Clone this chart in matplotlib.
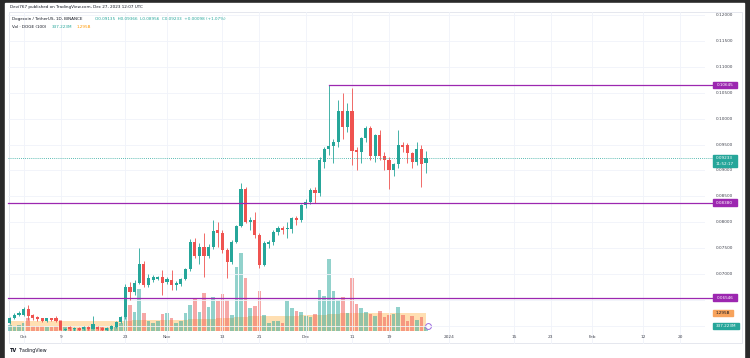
import numpy as np
import matplotlib.pyplot as plt
from matplotlib.patches import Rectangle
from matplotlib.transforms import blended_transform_factory as blend

# day index: 0 = 2023-10-01, candles from 2023-09-28 to 2023-12-27
days = np.arange(-3, 88)
opens = [0.06060, 0.06145, 0.06203, 0.06209, 0.06319, 0.06209, 0.06164, 0.06145, 0.06098, 0.06145, 0.06156,
         0.06098, 0.05919, 0.05983, 0.05932, 0.05950, 0.05932, 0.05983, 0.05944, 0.05980, 0.05963, 0.05925, 0.05932, 0.05971,
         0.06073, 0.06164, 0.06743, 0.06658, 0.06832, 0.07187, 0.06788, 0.06884, 0.06903, 0.06948,
         0.06851, 0.06884, 0.06788, 0.06807, 0.06903, 0.07091, 0.07624, 0.07347, 0.07527, 0.07347,
         0.07527, 0.07849, 0.07797, 0.07463, 0.07237, 0.07624, 0.07927, 0.08635, 0.08010, 0.08043,
         0.07753, 0.07174, 0.07573, 0.07624, 0.07817, 0.07882, 0.07869, 0.07869, 0.08087, 0.08043,
         0.08332, 0.08396, 0.08622, 0.08558, 0.09168, 0.09413, 0.09477, 0.09554, 0.10153, 0.09832,
         0.10153, 0.09394, 0.09361, 0.09631, 0.09813, 0.09284, 0.09683, 0.09284, 0.09201, 0.09008,
         0.09124, 0.09490, 0.09490, 0.09330, 0.09168, 0.09413, 0.09135]
highs = [0.06170, 0.06240, 0.06290, 0.06360, 0.06410, 0.06230, 0.06180, 0.06160, 0.06160, 0.06160, 0.06180,
         0.06110, 0.05960, 0.06000, 0.05980, 0.05970, 0.06000, 0.06000, 0.06189, 0.06000, 0.05980, 0.05970, 0.06010, 0.06090,
         0.06180, 0.06800, 0.06850, 0.06880, 0.07496, 0.07250, 0.07000, 0.06980, 0.06970, 0.07077,
         0.06950, 0.07077, 0.06860, 0.06920, 0.07120, 0.07680, 0.07700, 0.07600, 0.07800, 0.07580,
         0.08043, 0.08000, 0.07850, 0.07500, 0.07650, 0.07950, 0.08751, 0.08680, 0.08100, 0.08203,
         0.07800, 0.07630, 0.07650, 0.07850, 0.07920, 0.07920, 0.08010, 0.08100, 0.08120, 0.08360,
         0.08450, 0.08660, 0.08680, 0.09250, 0.09460, 0.10645, 0.09600, 0.10359, 0.10488, 0.10300,
         0.10585, 0.09450, 0.09650, 0.09850, 0.09850, 0.09700, 0.09780, 0.09350, 0.09250, 0.09150,
         0.09780, 0.09550, 0.09530, 0.09350, 0.09550, 0.09500, 0.09366]
lows = [0.06040, 0.06130, 0.06180, 0.06190, 0.06110, 0.06120, 0.06100, 0.06080, 0.06080, 0.06100, 0.06080,
        0.05900, 0.05900, 0.05900, 0.05900, 0.05900, 0.05910, 0.05920, 0.05930, 0.05920, 0.05900, 0.05900, 0.05920, 0.05960,
        0.06060, 0.06140, 0.06500, 0.06600, 0.06800, 0.06750, 0.06750, 0.06850, 0.06880, 0.06595,
        0.06800, 0.06700, 0.06690, 0.06770, 0.06880, 0.07050, 0.07300, 0.07200, 0.06950, 0.07300,
        0.07480, 0.07527, 0.07400, 0.06917, 0.07200, 0.07600, 0.07900, 0.07980, 0.07850, 0.07700,
        0.07116, 0.07150, 0.07500, 0.07560, 0.07750, 0.07780, 0.07689, 0.07800, 0.07950, 0.08000,
        0.08280, 0.08350, 0.08365, 0.08500, 0.09050, 0.09300, 0.09140, 0.09450, 0.09600, 0.09750,
        0.09100, 0.09000, 0.09150, 0.09550, 0.09200, 0.09170, 0.09200, 0.09000, 0.08641, 0.08900,
        0.09050, 0.09350, 0.09150, 0.09050, 0.09100, 0.08685, 0.08956]
closes = [0.06145, 0.06209, 0.06253, 0.06324, 0.06195, 0.06145, 0.06130, 0.06098, 0.06145, 0.06120, 0.06098,
          0.05919, 0.05944, 0.05932, 0.05960, 0.05920, 0.05983, 0.05944, 0.06035, 0.05940, 0.05919, 0.05950, 0.05996, 0.06079,
          0.06164, 0.06743, 0.06658, 0.06832, 0.07187, 0.06788, 0.06917, 0.06936, 0.06936, 0.06832,
          0.06903, 0.06788, 0.06821, 0.06903, 0.07091, 0.07624, 0.07347, 0.07527, 0.07347, 0.07527,
          0.07830, 0.07797, 0.07463, 0.07237, 0.07624, 0.07927, 0.08635, 0.08010, 0.08043, 0.07753,
          0.07174, 0.07593, 0.07624, 0.07817, 0.07882, 0.07850, 0.07894, 0.08075, 0.08043, 0.08332,
          0.08396, 0.08622, 0.08558, 0.09201, 0.09413, 0.09477, 0.09554, 0.10153, 0.09832, 0.10153,
          0.09380, 0.09361, 0.09631, 0.09813, 0.09284, 0.09683, 0.09284, 0.09201, 0.09008, 0.09124,
          0.09490, 0.09458, 0.09330, 0.09168, 0.09413, 0.09124, 0.09233]
# volume in millions of DOGE, and its 100-day moving average
volume = [440, 360, 420, 610, 950, 380, 330, 380, 300, 280, 360,
          820, 300, 260, 220, 200, 300, 250, 480, 350, 320, 240, 300, 380,
          600, 1500, 1900, 1400, 3100, 1300, 700, 550, 700, 1250,
          1350, 950, 550, 700, 1350, 1900, 2400, 1400, 2800, 1750,
          2500, 2200, 2700, 2300, 1150, 4700, 5700, 3850, 1660, 1850,
          2900, 1170, 560, 700, 750, 600, 2200, 1700, 1460, 1400,
          1100, 1050, 1240, 3000, 2560, 5300, 2900, 2270, 2460, 1340,
          3900, 2000, 1660, 1400, 1240, 1100, 1480, 1000, 1200, 1250,
          1730, 1200, 700, 1100, 800, 1050, 337]
vol_ma = [740, 740, 735, 735, 740, 745, 740, 740, 735, 735, 735,
          745, 745, 740, 735, 730, 730, 725, 725, 720, 720, 715, 715, 720,
          725, 740, 760, 770, 800, 805, 805, 805, 810, 815,
          820, 825, 825, 825, 830, 845, 860, 865, 885, 890,
          905, 920, 935, 950, 955, 990, 1030, 1060, 1070, 1080,
          1100, 1105, 1100, 1100, 1100, 1100, 1115, 1125, 1130, 1140,
          1145, 1150, 1155, 1180, 1200, 1240, 1260, 1270, 1285, 1290,
          1310, 1315, 1315, 1320, 1315, 1315, 1310, 1305, 1300, 1300,
          1300, 1300, 1295, 1295, 1295, 1295, 1295]

levels = [0.10645, 0.08380, 0.06546]
level_from = [66, -10, -10]
last_price = 0.09233
last_vol, last_ma = 337.223, 1295
grid_prices = [0.12, 0.115, 0.11, 0.105, 0.10, 0.095, 0.09, 0.085, 0.08, 0.075, 0.07, 0.065, 0.06]
price_labels = [0.12, 0.115, 0.11, 0.105, 0.10, 0.095, 0.09, 0.085, 0.08, 0.075, 0.07]
date_pos = [0, 8, 22, 31, 43, 51, 61, 71, 79, 92, 106, 114, 123, 134, 142]
date_lab = ['Oct', '9', '23', 'Nov', '13', '21', 'Dec', '11', '19', '2024', '15', '23', 'Feb', '12', '20']

UP, DN, PURPLE, ORANGE = '#26a69a', '#ef5350', '#9c27b0', '#ff9800'
TXT = '#131722'
W, H = 750, 358
plt.rcParams['font.family'] = 'DejaVu Sans'

fig = plt.figure(figsize=(W / 100, H / 100), dpi=100, facecolor='#2a2a2a')
fig.add_artist(Rectangle((5 / W, 0), 739 / W, 355 / H, transform=fig.transFigure, color='white', zorder=-5))
fig.add_artist(Rectangle((9.3 / W, 1 - 343.3 / H), 732.4 / W, 331 / H, transform=fig.transFigure,
                         fill=False, ec='#e0e3eb', lw=0.6, zorder=-4))

ax = fig.add_axes([8 / W, 1 - 331 / H, 697 / W, 318.7 / H])
av = ax.twinx()
ax.set_zorder(av.get_zorder() + 1); ax.patch.set_visible(False)
ax.set_xlim(-3.37, 147.33); ax.set_ylim(0.0590, 0.120521)
av.set_ylim(0, 23314)
for a in (ax, av):
    a.set_axis_off()

# grid
for p in grid_prices:
    ax.axhline(p, color='#f0f3fa', lw=0.6, zorder=0)
for d in date_pos:
    ax.axvline(d, ymin=-0.0386, ymax=1.0, color='#f0f3fa', lw=0.6, zorder=0, clip_on=False)

# volume + MA area
o, c = np.array(opens), np.array(closes)
up = c >= o
av.fill_between(days, vol_ma, step='mid', color=ORANGE, alpha=0.3, lw=0, zorder=1)
av.bar(days, volume, width=0.78, color=np.where(up, UP, DN), alpha=0.5, zorder=2)

# candles
cols = np.where(up, UP, DN)
ax.vlines(days, lows, highs, colors=cols, lw=0.6, zorder=3)
ax.bar(days, np.maximum(np.abs(c - o), 0.00015), bottom=np.minimum(o, c), width=0.68, color=cols, zorder=4)

# levels and last price
tx = blend(ax.transAxes, ax.transData)
for lv, start in zip(levels, level_from):
    x0 = ax.transAxes.inverted().transform(ax.transData.transform((start, lv)))[0]
    ax.plot([max(x0, 0), 1.011], [lv, lv], transform=tx, color=PURPLE, lw=0.9, clip_on=False, zorder=5)
ax.plot([0, 1.011], [last_price, last_price], transform=tx, color=UP, lw=0.6, ls=(0, (1, 1.5)),
        clip_on=False, zorder=5)

# price scale labels
for p in price_labels:
    ax.text(1.0155, p, f'{p:.5f}', transform=tx, fontsize=3.1, color='#434651', ha='left', va='center')


def tag(axis, value, text, face, fg='white', w=24.0, h=6.2, x0=712.7):
    y = axis.transData.transform((0, value))[1]
    fig.add_artist(Rectangle((x0 / W, (y - h / 2) / H), w / W, h / H, transform=fig.transFigure,
                             color=face, zorder=10))
    lines = text.split('\n')
    for i, t in enumerate(lines):
        yy = y + (len(lines) - 1) * h / 4 - i * h / 2
        fig.text((x0 + w / 2) / W, yy / H, t, fontsize=3.0, color=fg, ha='center', va='center', zorder=11)


for lv in levels:
    tag(ax, lv, f'{lv:.5f}', PURPLE)
tag(ax, last_price - 0.00052, f'{last_price:.5f}\n11:52:17', UP, h=11.2)
tag(av, last_ma, '1.295B', '#f7a35c', fg=TXT, w=20.6)
tag(av, last_vol, '337.223M', UP, w=26.6)

# event marker
av.plot([87.5], [380], marker='o', ms=4.2, mfc='white', mec='#9c6ade', mew=0.7, zorder=6, clip_on=False)

# time axis
tb = blend(ax.transData, ax.transAxes)
for d, lab in zip(date_pos, date_lab):
    ax.text(d, -0.019, lab, transform=tb, fontsize=3.1, color='#434651', ha='center', va='center', clip_on=False)

# header
fig.text(10 / W, 1 - 7 / H, 'Devi767 published on TradingView.com, Dec 27, 2023 12:07 UTC',
         fontsize=3.0, color=TXT, va='center')
fig.text(12 / W, 1 - 19 / H, 'Dogecoin / TetherUS, 1D, BINANCE', fontsize=3.0, color=TXT, va='center')
fig.text(95 / W, 1 - 19 / H, 'O0.09135  H0.09366  L0.08956  C0.09233  +0.00098 (+1.07%)',
         fontsize=3.0, color=UP, va='center')
fig.text(12 / W, 1 - 27 / H, 'Vol · DOGE (100)', fontsize=3.0, color=TXT, va='center')
fig.text(52 / W, 1 - 27 / H, '337.223M', fontsize=3.0, color=UP, va='center')
fig.text(77 / W, 1 - 27 / H, '1.295B', fontsize=3.0, color=ORANGE, va='center')

# logo
fig.text(10 / W, 1 - 350.5 / H, 'TV', fontsize=3.6, weight='bold', color=TXT, va='center')
fig.text(19 / W, 1 - 350.5 / H, 'TradingView', fontsize=3.4, color=TXT, va='center')

fig.savefig('out.png', dpi=100, facecolor=fig.get_facecolor())
